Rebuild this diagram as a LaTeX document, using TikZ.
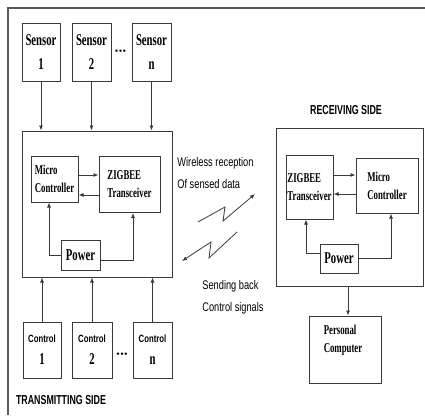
\documentclass[tikz,border=0pt]{standalone}
\usepackage{fontspec}
\setmainfont{Liberation Serif}
\newfontfamily\boxfont[FakeStretch=0.65]{Liberation Serif}
\newfontfamily\sidefont[FakeStretch=0.74]{Liberation Sans}
\newfontfamily\headfont[FakeStretch=0.68]{Liberation Sans}
\usetikzlibrary{arrows.meta}
\definecolor{linegray}{HTML}{3A3A3A}
\definecolor{framegray}{HTML}{5A5A5A}

\begin{document}
\begin{tikzpicture}[x=1pt,y=-1pt,line width=0.8pt,>={Latex[length=5pt,width=4pt]},
  blk/.style={draw=linegray,line width=1pt,inner sep=0pt},
  sensorbox/.style={blk,minimum width=39pt,minimum height=58pt,align=center,
    font=\boxfont\bfseries\fontsize{16.5}{24}\selectfont},
  ctrlbox/.style={blk,minimum width=39pt,minimum height=56pt,align=center,
    font=\boxfont\bfseries\fontsize{16.5}{22}\selectfont},
  unitbox/.style={blk,align=left,font=\boxfont\bfseries\fontsize{13.5}{18}\selectfont},
  powerbox/.style={blk,minimum width=39pt,minimum height=30pt,
    font=\boxfont\bfseries\fontsize{16.5}{18}\selectfont},
  sidetxt/.style={align=left,inner sep=0pt,font=\sidefont\fontsize{12.5}{22}\selectfont},
  headtxt/.style={inner sep=0pt,font=\headfont\bfseries\fontsize{13}{14}\selectfont},
  dots/.style={inner sep=0pt,font=\fontsize{10}{10}\selectfont},
  arr/.style={draw=linegray,->},
  wire/.style={draw=linegray}]
  \useasboundingbox (0,0) rectangle (425,415);
  % marco exterior
  \draw[framegray,line width=1.5pt] (425,8) -- (8,8) -- (8,415);

  % lado transmisor
  \node[sensorbox,minimum width=38pt] (s1) at (41,52) {Sensor\\1};
  \node[sensorbox] (s2) at (91.5,52) {Sensor\\2};
  \node[sensorbox] (sn) at (151.5,52) {Sensor\\n};
  \node[dots] (sdots) at (120.5,52) {\textbullet\kern0.3pt\textbullet\kern0.3pt\textbullet};

  \node[blk,minimum width=150pt,minimum height=146pt] (tbox) at (97,204) {};
  \node[unitbox,minimum width=47pt,minimum height=46pt] (tmc) at (54.5,179) {Micro\\Controller};
  \node[unitbox,minimum width=61pt,minimum height=56pt] (tzb) at (129.5,184.5) {ZIGBEE\\Transceiver};
  \node[powerbox] (tpw) at (80.5,255) {Power};

  \foreach \s in {s1,s2,sn}
    \draw[arr] (\s) -- (\s |- tbox.north);
  \draw[arr] ([yshift=4pt]tmc.east) -- ([yshift=4pt]tmc.east -| tzb.west);
  \draw[arr] ([yshift=-10.5pt]tzb.west) -- ([yshift=-10.5pt]tzb.west -| tmc.east);
  \draw[arr] (tpw.west) -| ([xshift=-5.5pt]tmc.south);
  \draw[arr] ([yshift=-5pt]tpw.east) -| ([xshift=3.5pt]tzb.south);

  \node[ctrlbox,minimum width=38pt] (c1) at (42,350)
    {{\sidefont\bfseries\fontsize{10.5}{12}\selectfont Control}\\1};
  \node[ctrlbox,minimum width=40pt] (c2) at (92,350)
    {{\sidefont\bfseries\fontsize{10.5}{12}\selectfont Control}\\2};
  \node[ctrlbox] (cn) at (152.5,350)
    {{\sidefont\bfseries\fontsize{10.5}{12}\selectfont Control}\\n};
  \node[dots] (cdots) at (122,355) {\textbullet\kern0.3pt\textbullet\kern0.3pt\textbullet};
  \foreach \c in {c1,c2,cn}
    \draw[arr] (\c) -- (\c |- tbox.south);
  \node[headtxt] (tside) at (61,400) {TRANSMITTING SIDE};

  % enlace inalambrico
  \node[sidetxt,anchor=west] (wtxt) at (177,173) {Wireless reception\\Of sensed data};
  \draw[arr] (198,222) -- (225,207) -- (223,221) -- (255,194);
  \draw[arr] (237,232) -- (209,258) -- (211,242) -- (182,261);
  \node[sidetxt,anchor=west] (btxt) at (202,297.5) {Sending back\\Control signals};

  % lado receptor
  \node[headtxt] (rside) at (346,110) {RECEIVING SIDE};
  \node[blk,minimum width=147pt,minimum height=158pt] (rbox) at (349.5,207) {};
  \node[unitbox,minimum width=47pt,minimum height=64pt] (rzb) at (309.5,187) {ZIGBEE\\Transceiver};
  \node[unitbox,minimum width=62pt,minimum height=55pt] (rmc) at (387,185.5) {Micro\\Controller};
  \node[powerbox,minimum width=38pt,minimum height=29pt] (rpw) at (339,258.5) {Power};

  \draw[arr] ([yshift=12pt]rzb.east) -- ([yshift=12pt]rzb.east -| rmc.west);
  \draw[arr] ([yshift=-8.5pt]rmc.west) -- ([yshift=-8.5pt]rmc.west -| rzb.east);
  \draw[arr] ([yshift=5.5pt]rpw.west) -| ([xshift=-3.5pt]rzb.south);
  \draw[arr] (rpw.east) -| ([xshift=4pt]rmc.south);

  \node[blk,minimum width=72pt,minimum height=67pt] (pc) at (345,349.5) {};
  \node[unitbox,draw=none] (pclbl) at (343,340.5) {Personal\\Computer};
  \draw[arr] (rbox.south -| 348,0) -- (pc.north -| 348,0);
\end{tikzpicture}
\end{document}
